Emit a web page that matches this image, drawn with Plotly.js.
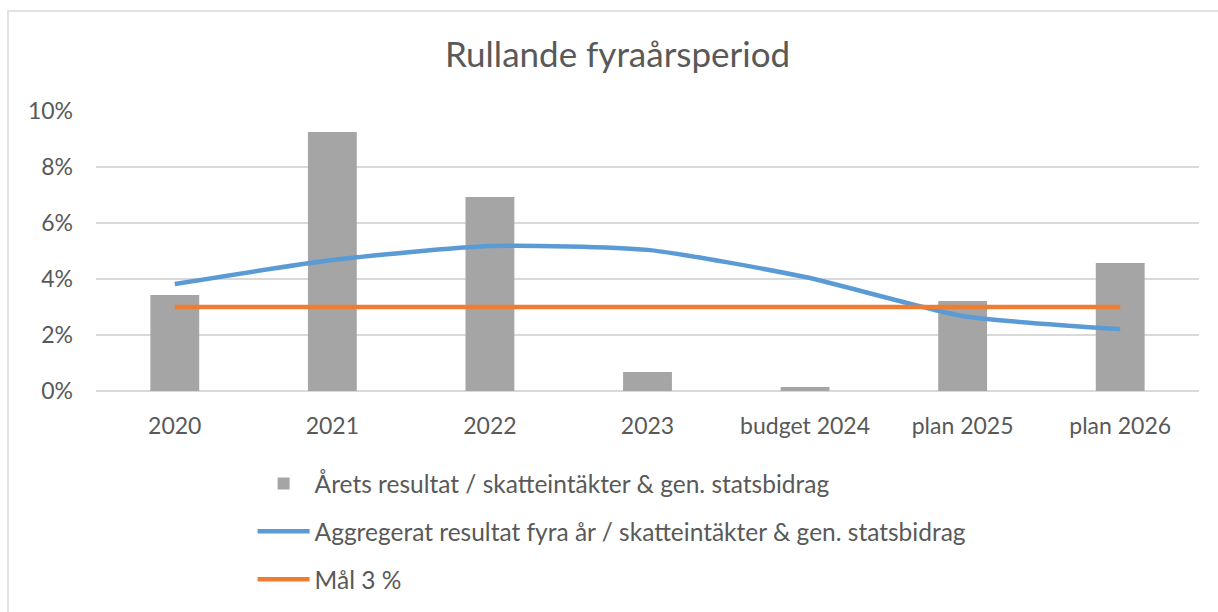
<!DOCTYPE html>
<html>
<head>
<meta charset="utf-8">
<script src="https://cdn.plot.ly/plotly-3.0.1.min.js"></script>
<style>html,body{margin:0;padding:0;background:#fff;}#chart{width:1218px;height:612px;}</style>
</head>
<body>
<div id="chart"></div>
<script>
const categories = ["2020", "2021", "2022", "2023", "budget 2024", "plan 2025", "plan 2026"];
const aretsResultat = [0.0343, 0.0925, 0.0693, 0.0068, 0.0014, 0.0321, 0.0457];
const aggregeratResultat = [0.0382, 0.0468, 0.0518, 0.0504, 0.0407, 0.0268, 0.0221];
const mal = [0.03, 0.03, 0.03, 0.03, 0.03, 0.03, 0.03];
const seriesNames = [
  "Årets resultat / skatteintäkter & gen. statsbidrag",
  "Aggregerat resultat fyra år / skatteintäkter & gen. statsbidrag",
  "Mål 3 %"
];
const titleText = "Rullande fyraårsperiod";
const yTicks = [0, 0.02, 0.04, 0.06, 0.08, 0.10];

const FONT = "Lato, 'Open Sans', sans-serif";
const TXT = "#595959";

const traces = [
  {type: "bar", x: categories, y: aretsResultat, name: seriesNames[0],
   marker: {color: "#A5A5A5"}, legendgroup: "a"},
  {type: "scatter", mode: "lines", x: categories, y: aggregeratResultat, name: seriesNames[1],
   line: {color: "#5B9BD5", width: 4.5, shape: "spline", smoothing: 0.6}, legendgroup: "b"},
  {type: "scatter", mode: "lines", x: categories, y: mal, name: seriesNames[2],
   line: {color: "#ED7D31", width: 4.5}, legendgroup: "c"}
];

const layout = {
  width: 1218, height: 612,
  margin: {l: 96, r: 19, t: 111, b: 221, autoexpand: false},
  paper_bgcolor: "#fff", plot_bgcolor: "#fff",
  font: {family: FONT, color: TXT, size: 23},
  title: {text: titleText, font: {family: FONT, size: 35, color: TXT},
          x: 0.507, xanchor: "center", xref: "container", y: 1 - 55/612, yanchor: "middle"},
  bargap: 0.69,
  showlegend: true,
  legend: {orientation: "v", xref: "container", yref: "container",
           x: 252.6 / 1218, xanchor: "left", y: 1 - 461 / 612, yanchor: "top",
           font: {family: FONT, size: 24.5, color: TXT}, itemwidth: 52,
           tracegroupgap: 13, traceorder: "grouped", bgcolor: "rgba(0,0,0,0)"},
  xaxis: {type: "category", showgrid: false, showline: false, zeroline: false,
          ticks: "", tickfont: {family: FONT, size: 23, color: TXT}, ticklabelstandoff: 19},
  yaxis: {range: [0, 0.1], tickvals: yTicks, tickformat: ".0%", showgrid: true,
          gridcolor: "#D9D9D9", gridwidth: 1.3, zeroline: true, zerolinecolor: "#D9D9D9", zerolinewidth: 1.3,
          showline: false, ticks: "", tickfont: {family: FONT, size: 23, color: TXT}, ticklabelstandoff: 22,
          fixedrange: true},
  shapes: [
    {type: "rect", xref: "paper", yref: "paper", layer: "below",
     x0: (8 - 96) / 1103, x1: (1230 - 96) / 1103,
     y0: (221 - 630) / 280, y1: (612 - 221 - 11) / 280,
     line: {color: "#D9D9D9", width: 1.5}, fillcolor: "rgba(0,0,0,0)"}
  ]
};

Plotly.newPlot("chart", traces, layout, {displayModeBar: false, staticPlot: true});
</script>
</body>
</html>
